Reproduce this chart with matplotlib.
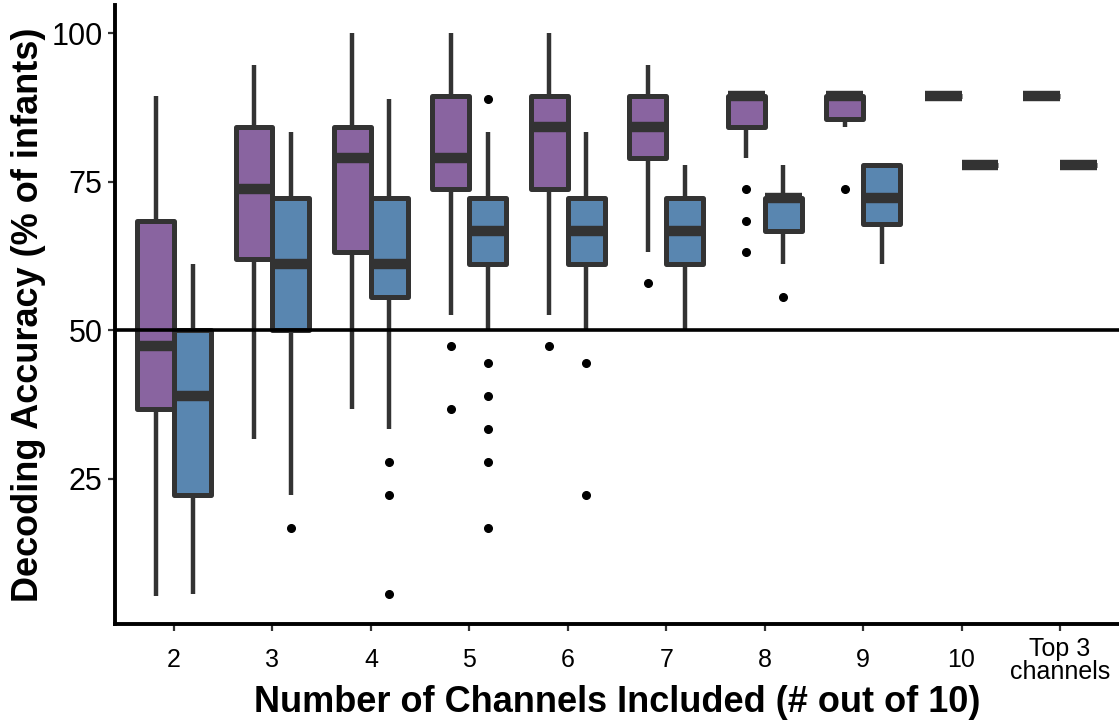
import matplotlib
matplotlib.use("Agg")
import matplotlib.pyplot as plt
import numpy as np

plt.rcParams['font.family'] = ['Liberation Sans', 'DejaVu Sans']

categories = ['2', '3', '4', '5', '6', '7', '8', '9', '10', 'Top 3\nchannels']

# purple series: five-number summaries + outliers
purple_lo = [5.3, 31.6, 36.8, 52.6, 52.6, 63.2, 78.9, 84.2, 89.5, 89.5]
purple_q1 = [36.8, 61.9, 63.2, 73.7, 73.7, 78.9, 84.2, 85.5, 89.5, 89.5]
purple_med = [47.4, 73.7, 78.9, 78.9, 84.2, 84.2, 89.5, 89.5, 89.5, 89.5]
purple_q3 = [68.4, 84.2, 84.2, 89.5, 89.5, 89.5, 89.5, 89.5, 89.5, 89.5]
purple_hi = [89.5, 94.7, 100, 100, 100, 94.7, 89.5, 89.5, 89.5, 89.5]
purple_out = [[], [], [], [47.4, 36.8], [47.4], [57.9],
              [73.7, 68.4, 63.2], [73.7], [], []]

# blue series
blue_lo = [5.6, 22.2, 33.3, 50, 50, 50, 61.1, 61.1, 77.8, 77.8]
blue_q1 = [22.2, 50, 55.6, 61.1, 61.1, 61.1, 66.7, 67.9, 77.8, 77.8]
blue_med = [38.9, 61.1, 61.1, 66.7, 66.7, 66.7, 72.2, 72.2, 77.8, 77.8]
blue_q3 = [50, 72.2, 72.2, 72.2, 72.2, 72.2, 72.2, 77.8, 77.8, 77.8]
blue_hi = [61.1, 83.3, 88.9, 83.3, 83.3, 77.8, 77.8, 77.8, 77.8, 77.8]
blue_out = [[], [16.7], [27.8, 22.2, 5.6],
            [88.9, 44.4, 38.9, 33.3, 27.8, 16.7], [44.4, 22.2],
            [], [55.6], [], [], []]

yticks = [25, 50, 75, 100]


def make_stats(lo, q1, med, q3, hi, out):
    return [dict(whislo=a, q1=b, med=c, q3=d, whishi=e, fliers=f)
            for a, b, c, d, e, f in zip(lo, q1, med, q3, hi, out)]


fig = plt.figure(figsize=(11.19, 7.25), dpi=100)
ax = fig.add_axes([115 / 1119, 101 / 725, 1004 / 1119, 619 / 725])

edge = '#333333'
x = np.arange(1, len(categories) + 1)
series = [
    (make_stats(purple_lo, purple_q1, purple_med, purple_q3, purple_hi, purple_out),
     '#8964A0', -0.1875),
    (make_stats(blue_lo, blue_q1, blue_med, blue_q3, blue_hi, blue_out),
     '#5986B0', 0.1875),
]
for stats, color, off in series:
    ax.bxp(stats, positions=x + off, widths=0.375, patch_artist=True,
           showcaps=False, manage_ticks=False,
           boxprops=dict(facecolor=color, edgecolor=edge, linewidth=3.6,
                         joinstyle='round'),
           medianprops=dict(color=edge, linewidth=7.5, solid_capstyle='butt'),
           whiskerprops=dict(color=edge, linewidth=3.2, solid_capstyle='butt'),
           flierprops=dict(marker='o', markerfacecolor='black',
                           markeredgecolor='black', markersize=5.5))

ax.axhline(50, color='black', linewidth=2.6, zorder=5)

ax.set_xlim(0.4, 10.6)
ax.set_ylim(0.53, 104.74)
ax.set_xticks(x)
ax.set_xticklabels(categories, fontsize=18, linespacing=0.95)
ax.set_yticks(yticks)
ax.set_yticklabels([str(v) for v in yticks], fontsize=22)
for lbl in ax.get_xticklabels():
    lbl.set_va('center')

for side in ['top', 'right']:
    ax.spines[side].set_visible(False)
for side in ['left', 'bottom']:
    ax.spines[side].set_linewidth(2.8)
    ax.spines[side].set_color('black')
ax.tick_params(axis='x', length=5, width=1.6, color=edge, pad=21,
               labelcolor='black')
ax.tick_params(axis='y', length=5, width=1.6, color=edge, pad=4,
               labelcolor='black')

ax.set_xlabel('Number of Channels Included (# out of 10)', fontsize=26,
              fontweight='bold')
ax.set_ylabel('Decoding Accuracy (% of infants)', fontsize=26,
              fontweight='bold')
ax.xaxis.label.set_va('center')
ax.yaxis.label.set_va('center')
ax.xaxis.set_label_coords(0.5, -79 / 619)
ax.yaxis.set_label_coords(-86 / 1004, 0.5)

fig.savefig('out.png', dpi=100)
